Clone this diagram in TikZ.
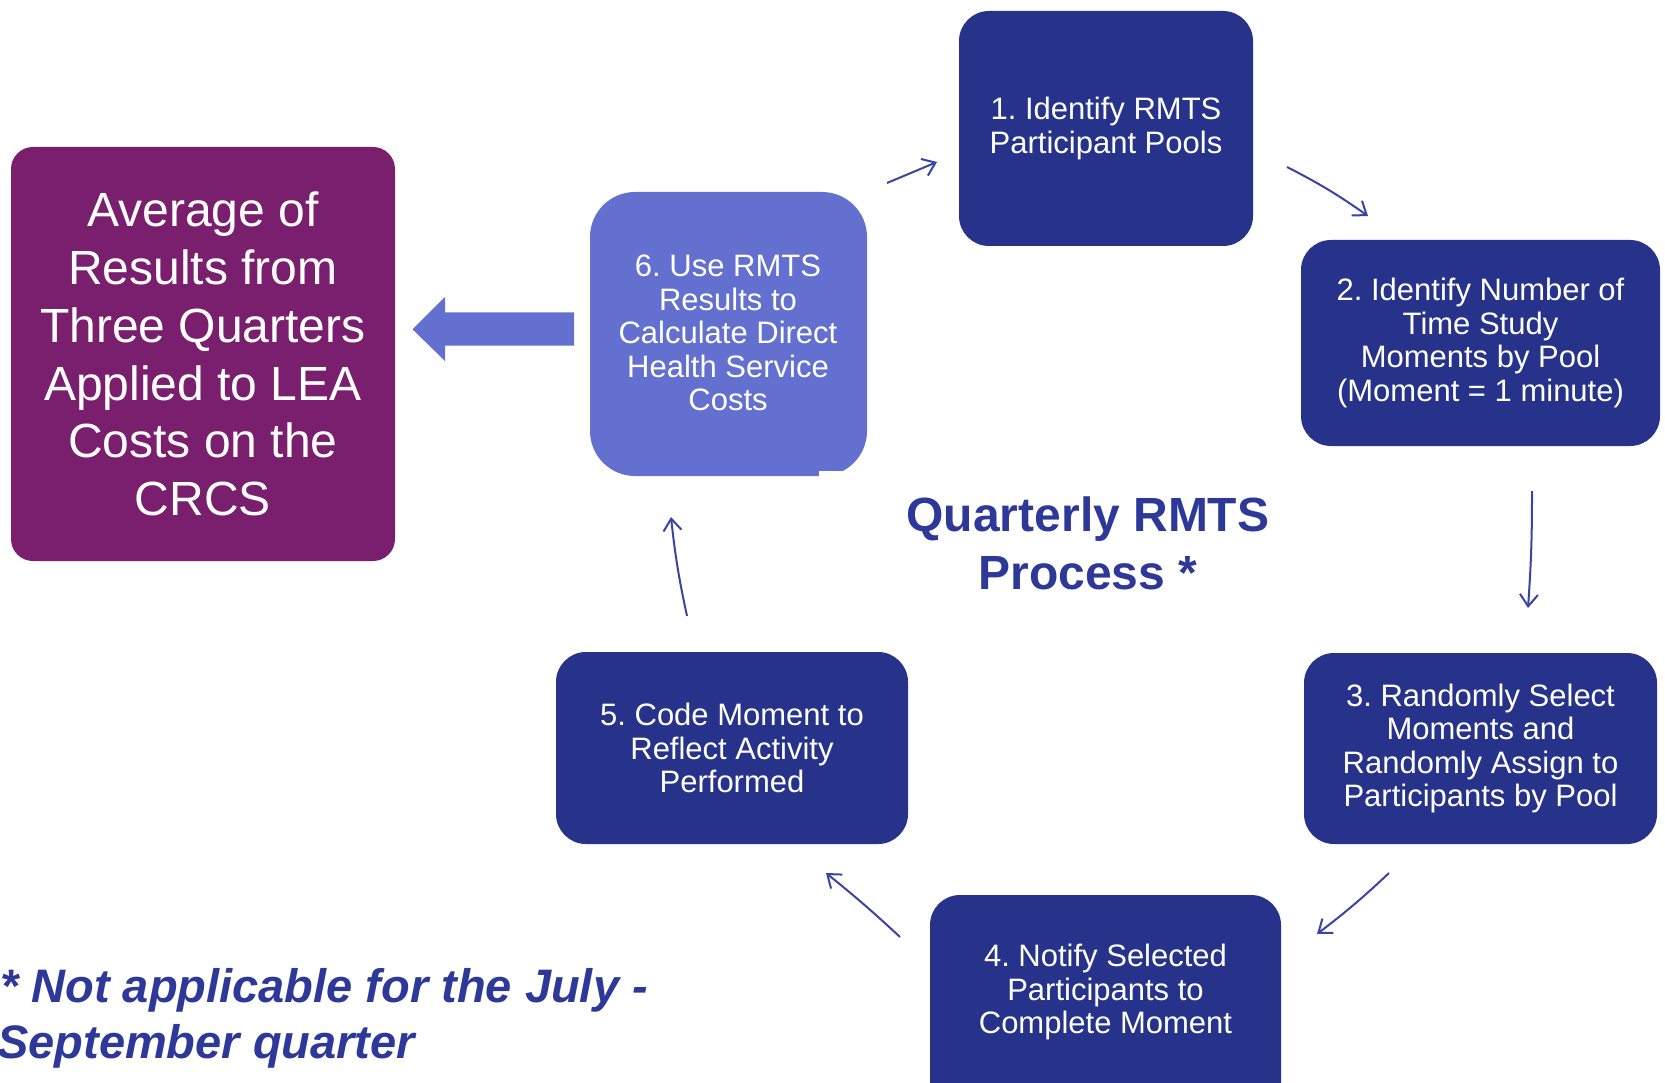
\documentclass[tikz,border=0pt]{standalone}
\usepackage{fontspec}
\setmainfont{Liberation Sans}
\usetikzlibrary{arrows.meta}
\frenchspacing
\definecolor{navy}{HTML}{27338B}
\definecolor{lilac}{HTML}{6470D0}
\definecolor{plum}{HTML}{7A1E6E}
\definecolor{inkblue}{HTML}{2D3899}
\definecolor{arrowblue}{HTML}{3A44A3}
\tikzset{
  stage/.style={fill=navy, rounded corners=30pt, text=white, align=center,
    font=\fontsize{31}{33.5}\selectfont, inner sep=0pt},
  flow/.style={draw=arrowblue, line width=2pt,
    -{Straight Barb[length=12pt,width=18pt,line width=2pt]}},
}
\begin{document}
\begin{tikzpicture}[x=1pt,y=-1pt]
  \useasboundingbox (0,0) rectangle (1665,1083);
  \clip (0,0) rectangle (1665,1083);
  \fill[white] (0,0) rectangle (1665,1083);

  % cycle stages
  \node[stage, minimum width=294pt, minimum height=235pt] (s1) at (1106,128.5)
    {1. Identify RMTS\\Participant Pools};
  \node[stage, minimum width=359pt, minimum height=206pt] (s2) at (1480.5,343)
    {2. Identify Number of\\Time Study\\Moments by Pool\\(Moment = 1 minute)};
  \node[stage, minimum width=353pt, minimum height=191pt] (s3) at (1480.5,748.5)
    {3. Randomly Select\\Moments and\\Randomly Assign to\\Participants by Pool};
  \node[stage, minimum width=351pt, minimum height=220pt] (s4) at (1105.5,1005)
    {};
  \node[text=white, align=center, font=\fontsize{31}{33.5}\selectfont] (s4t) at (1105.5,992)
    {4. Notify Selected\\Participants to\\Complete Moment};
  \node[stage, minimum width=352pt, minimum height=192pt] (s5) at (732,748)
    {5. Code Moment to\\Reflect Activity\\Performed};
  \node[stage, fill=lilac, rounded corners=45pt, minimum width=277pt, minimum height=284pt] (s6) at (728.5,334)
    {};
  \node[text=white, align=center, font=\fontsize{31}{33.5}\selectfont] (s6t) at (728,333)
    {6. Use RMTS\\Results to\\Calculate Direct\\Health Service\\Costs};
  \fill[white] (819,471) rectangle (880,490);

  % result box
  \node[fill=plum, rounded corners=22pt, text=white, align=center,
    minimum width=384pt, minimum height=414pt, inner sep=0pt,
    font=\fontsize{48}{57.8}\selectfont] (res) at (203,354)
    {Average of\\Results from\\Three Quarters\\Applied to LEA\\Costs on the\\CRCS};

  % block arrow from stage 6 to the result
  \fill[lilac] (574,312.5) -- (445,312.5) -- (445,297) -- (412.5,329.3)
    -- (445,361) -- (445,345.5) -- (574,345.5) -- cycle;

  % cycle arrows
  \draw[flow] (887,183) -- (937,162);
  \draw[flow] (1287,167) to[bend left=4] (1368,216);
  \draw[flow] (1532,491) to[bend left=2] (1528,608);
  \draw[flow] (1389,873) to[bend left=3] (1317,934);
  \draw[flow] (900,937) to[bend right=2] (826,873);
  \draw[flow] (687,616) to[bend left=3] (671,517);

  % title
  \node[text=inkblue, align=center, font=\bfseries\fontsize{48}{58}\selectfont] (title) at (1088,543)
    {Quarterly RMTS\\Process *};

  % footnote
  \node[text=inkblue, align=left, anchor=north west, inner sep=0pt,
    font=\bfseries\itshape\fontsize{47}{56}\selectfont] (note) at (-3,968)
    {\hspace*{3pt}* Not applicable for the July -\\September quarter};
\end{tikzpicture}
\end{document}
